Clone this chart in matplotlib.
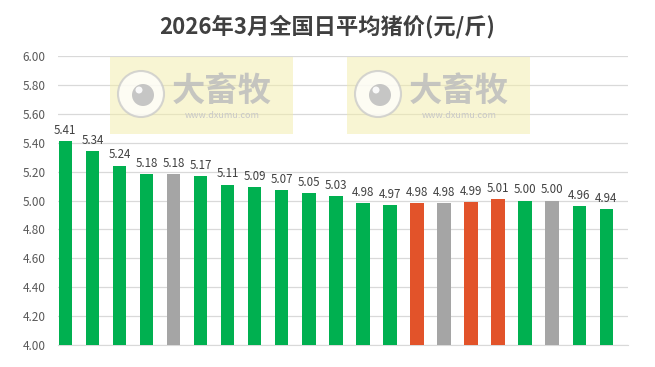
import matplotlib.pyplot as plt
from matplotlib.patches import Rectangle, Circle

plt.rcParams['font.family'] = ['Noto Sans CJK SC', 'DejaVu Sans']

# daily average prices, March 2026
prices = [5.41, 5.34, 5.24, 5.18, 5.18, 5.17, 5.11, 5.09, 5.07, 5.05, 5.03,
          4.98, 4.97, 4.98, 4.98, 4.99, 5.01, 5.00, 5.00, 4.96, 4.94]
# g = green, s = gray, o = orange
bar_kinds = ['g', 'g', 'g', 'g', 's', 'g', 'g', 'g', 'g', 'g', 'g',
             'g', 'g', 'o', 's', 'o', 'o', 'g', 's', 'g', 'g']
y_ticks = [4.0, 4.2, 4.4, 4.6, 4.8, 5.0, 5.2, 5.4, 5.6, 5.8, 6.0]

palette = {'g': '#00B050', 's': '#A5A5A5', 'o': '#E2532A'}
colors = [palette[k] for k in bar_kinds]
text_col = '#404040'

fig = plt.figure(figsize=(6.55, 3.67), dpi=100)
ax = fig.add_axes([58 / 655, 1 - 345 / 367, 570 / 655, 289 / 367])

x = list(range(len(prices)))
bars = ax.bar(x, prices, width=0.5, color=colors, zorder=3)
for xi, v in zip(x, prices):
    ax.text(xi, v + 0.03, f'{v:.2f}', ha='center', va='bottom',
            fontsize=8.3, color=text_col, zorder=4)

ax.set_ylim(4.0, 6.0)
ax.set_xlim(-0.27, 20.8)
ax.set_yticks(y_ticks)
ax.set_yticklabels([f'{t:.2f}' for t in y_ticks], fontsize=8.5, color='#595959')
ax.set_xticks([])
ax.tick_params(axis='y', length=0, pad=9)
ax.grid(axis='y', color='#D9D9D9', linewidth=0.9, zorder=0)
for s in ['top', 'right', 'left']:
    ax.spines[s].set_visible(False)
ax.spines['bottom'].set_color('#D9D9D9')

fig.text(0.5, 1 - 27 / 367, '2026年3月全国日平均猪价(元/斤)', ha='center',
         va='center', fontsize=16, fontweight='bold', color=text_col)

# watermark boxes
for left in [110, 347]:
    w, h, top = 183, 77, 57
    fig.patches.append(Rectangle((left / 655, 1 - (top + h) / 367), w / 655, h / 367,
                                 transform=fig.transFigure, facecolor='#F3EDA8',
                                 alpha=0.5, edgecolor='none', zorder=5))
    fig.patches.append(Circle((left + 31, 367 - 94), 23, transform=None,
                              facecolor='white', edgecolor='#C8C8C8', lw=1.5,
                              alpha=0.75, zorder=6))
    fig.patches.append(Circle((left + 33, 367 - 95), 11, transform=None,
                              facecolor='#BDBDBD', edgecolor='none', alpha=0.85, zorder=7))
    fig.patches.append(Circle((left + 29, 367 - 90), 3.5, transform=None,
                              facecolor='white', edgecolor='none', alpha=0.9, zorder=7))
    fig.text((left + 112) / 655, 1 - 91 / 367, '大畜牧', ha='center', va='center',
             fontsize=24, fontweight='bold', color='#BDBDBD', alpha=0.85, zorder=8)
    fig.text((left + 112) / 655, 1 - 116 / 367, 'www.dxumu.com', ha='center',
             va='center', fontsize=6.5, color='#C8C8C8', zorder=8)

fig.savefig('out.png', dpi=100)
